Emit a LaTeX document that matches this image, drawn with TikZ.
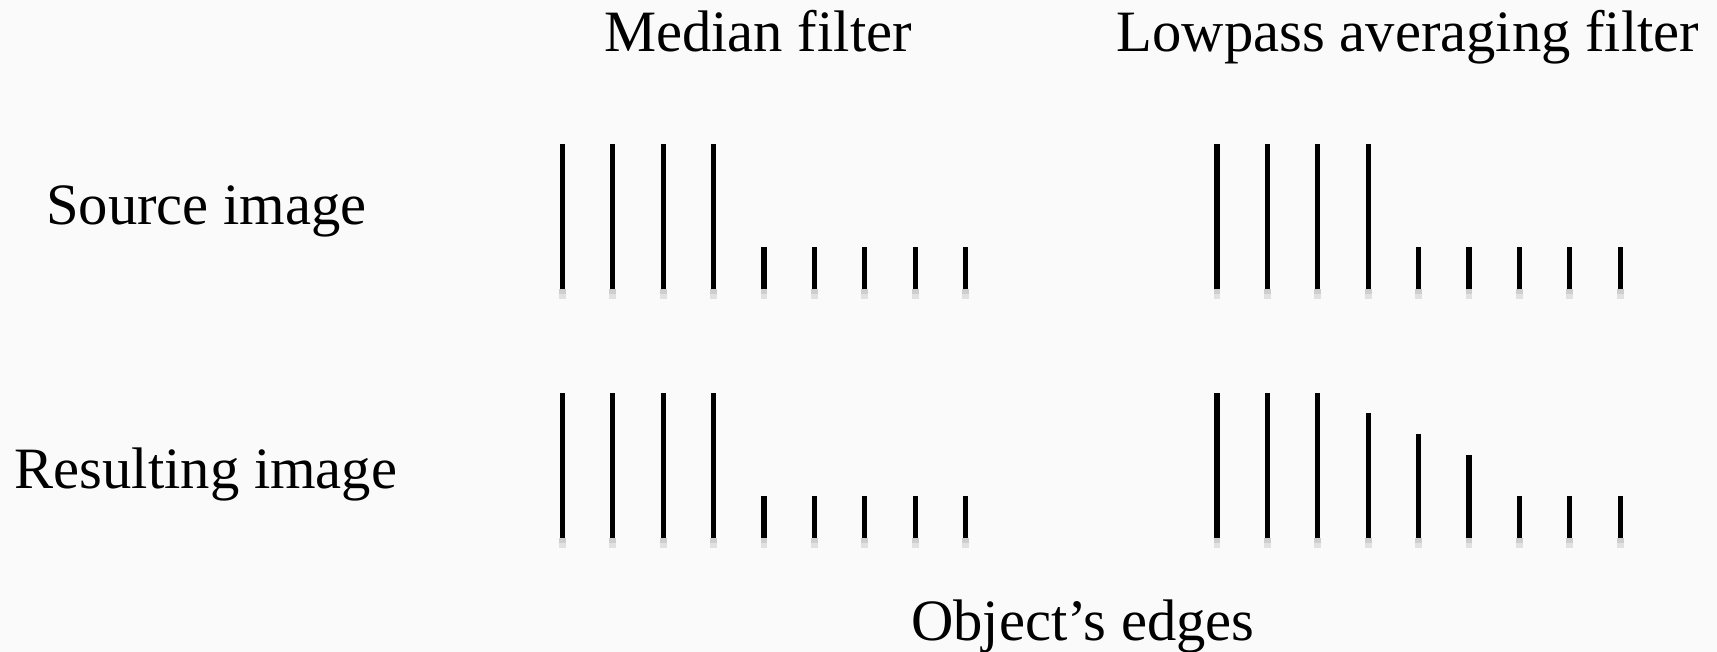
\documentclass[tikz,border=0pt]{standalone}
\usepackage{fontspec}
\setmainfont{Liberation Serif}
\usepackage{tikz}
\usepackage{xcolor}
\definecolor{paper}{RGB}{250,250,250}
\tikzset{
    bar-line/.style = {draw=black, line width=2.6pt},
    bar-shadow/.style = {draw=black!40, line width=3.4pt, opacity=0.25},
    label-text/.style = {anchor=base, inner sep=0pt, font=\fontsize{29.3}{34}\selectfont},
}
\begin{document}
\begin{tikzpicture}[x=0.5pt,y=-0.5pt]
\fill[paper] (0,0) rectangle (1717,652);
\useasboundingbox (0,0) rectangle (1717,652);
\node[label-text] (median) at (758,51.5) {Median filter};
\node[label-text] (lowpass) at (1408,51.5) {Lowpass averaging filter};
\node[label-text] (source) at (206.5,224.5) {Source image};
\node[label-text] (result) at (206,488) {Resulting image};
\node[label-text] (edges) at (1083,640.6) {Object’s edges};
\foreach \gx/\gy/\hs in {562.3/289.3/{145,145,145,145,41.8,41.8,41.8,41.8,41.8},
                         1217/289.3/{145,145,145,145,41.8,41.8,41.8,41.8,41.8},
                         562.3/537.7/{145,145,145,145,41.8,41.8,41.8,41.8,41.8},
                         1217/537.7/{145,145,145,124.4,103.7,82.7,41.8,41.8,41.8}}{
    \foreach \h [count=\i from 0] in \hs {
        \draw[bar-shadow] (\gx+\i*50.4,\gy) -- ++(0,10);
        \draw[bar-shadow] (\gx+\i*50.4,\gy) -- ++(0,5);
        \draw[bar-line] (\gx+\i*50.4,\gy) -- ++(0,-\h);
    }
}
\end{tikzpicture}
\end{document}
